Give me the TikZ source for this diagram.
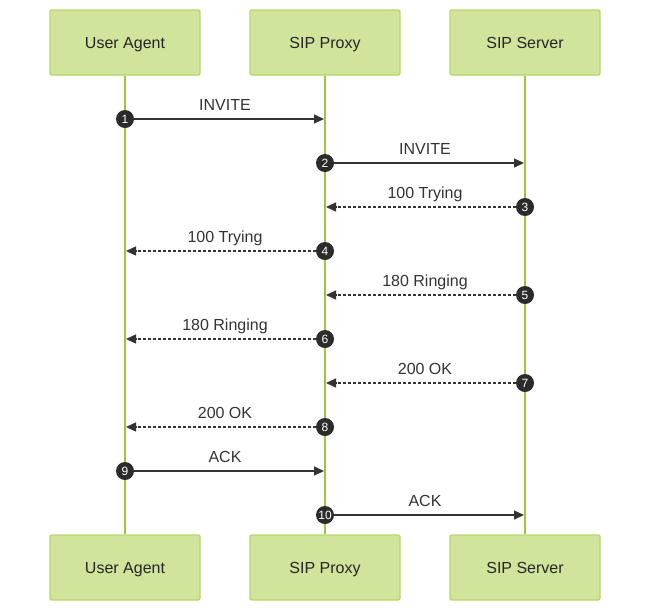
\documentclass[tikz,border=0pt]{standalone}
\usepackage{fontspec}
\setmainfont{Liberation Sans}
\usetikzlibrary{arrows.meta, positioning}

\definecolor{boxfill}{HTML}{D0E49C}
\definecolor{boxline}{HTML}{B5D56A}
\definecolor{lifeline}{HTML}{9DC53C}
\definecolor{msgline}{HTML}{333333}
\definecolor{numfill}{HTML}{2B2B2B}

\begin{document}
\begin{tikzpicture}[
                x = 1pt, y = -1pt, % pixel grid, y going down
                > = {Triangle[length=10pt, width=9pt]}, % arrow head style
                semithick % line style
            ]

            \tikzset{
                actor/.style = {draw = boxline, fill = boxfill, line width = 1.3pt,
                    rounded corners = 2pt, minimum width = 150pt, minimum height = 65pt,
                    text height = 11.5pt, text depth = 0pt,
                    text = black!85, font = \fontsize{16}{19}\selectfont},
                life/.style = {draw = lifeline, line width = 1.5pt},
                num/.style = {circle, fill = numfill, text = white, inner sep = 0pt,
                    minimum size = 18pt, font = \fontsize{12}{12}\selectfont},
                call/.style = {draw = msgline, line width = 1.4pt},
                reply/.style = {call, dash pattern = on 3pt off 2pt},
                msg/.style = {text = msgline, text height = 11.5pt, text depth = 0pt,
                    font = \fontsize{16}{19}\selectfont}
            }

            \useasboundingbox (0,0) rectangle (650,611);

            % actors on top and bottom
            \node (ua) [actor] at (125,42.5) {User Agent};
            \node (px) [actor] at (325,42.5) {SIP Proxy};
            \node (sv) [actor] at (525,42.5) {SIP Server};
            \node (uab) [actor] at (125,567.5) {User Agent};
            \node (pxb) [actor] at (325,567.5) {SIP Proxy};
            \node (svb) [actor] at (525,567.5) {SIP Server};

            % lifelines
            \path[life] (ua) -- (uab); \path[life] (px) -- (pxb);
            \path[life] (sv) -- (svb);

            % messages
            \foreach \i/\a/\b/\y/\txt/\ls in {
                1/125/325/119/INVITE/call, 2/325/525/163/INVITE/call,
                3/525/325/207/100 Trying/reply, 4/325/125/251/100 Trying/reply,
                5/525/325/295/180 Ringing/reply, 6/325/125/339/180 Ringing/reply,
                7/525/325/383/200 OK/reply, 8/325/125/427/200 OK/reply,
                9/125/325/471/ACK/call, 10/325/525/515/ACK/call}
            {
                \coordinate (t\i) at (\b,\y);
                \node (m\i) [num] at (\a,\y) {\i};
                \node (l\i) [msg] at ({(\a+\b)/2},\y-14) {\txt};
                \draw[\ls, ->, shorten >= 1pt] (m\i) -- (t\i);
            }

        \end{tikzpicture}
\end{document}
